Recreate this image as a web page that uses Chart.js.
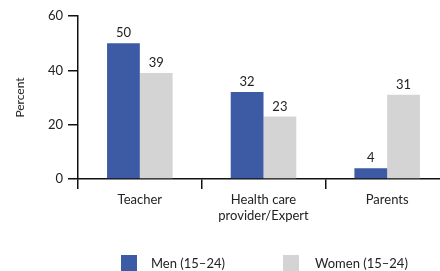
<!DOCTYPE html>
<html>
<head>
<meta charset="utf-8">
<script src="https://cdn.jsdelivr.net/npm/chart.js@4/dist/chart.umd.min.js"></script>
<style>
  html, body { margin: 0; padding: 0; background: #fff; overflow: hidden; }
  #wrap { position: relative; width: 440px; height: 271px; overflow: hidden; }
  #c { position: absolute; left: 0; top: 0; }
  .lg { position: absolute; font-family: Lato, "Open Sans", sans-serif; font-size: 13px; color: #222; line-height: 16px; white-space: nowrap; }
  .bx { position: absolute; width: 16px; height: 16px; }
</style>
</head>
<body>
<div id="wrap">
  <canvas id="c" width="449" height="271" style="width:449px;height:271px"></canvas>
  <div class="bx" id="b0" style="left:121px;top:255px"></div>
  <div class="lg" id="t0" style="left:151px;top:255px"></div>
  <div class="bx" id="b1" style="left:283px;top:255px"></div>
  <div class="lg" id="t1" style="left:315px;top:255px"></div>
</div>
<script>
const categories = [["Teacher"], ["Health care", "provider/Expert"], ["Parents"]];
const seriesNames = ["Men (15–24)", "Women (15–24)"];
const menValues = [50, 32, 4];
const womenValues = [39, 23, 31];
const yTicks = [0, 20, 40, 60];
const yTitle = "Percent";
const colors = ["#3d5aa5", "#d4d4d4"];

document.getElementById('b0').style.background = colors[0];
document.getElementById('b1').style.background = colors[1];
document.getElementById('t0').textContent = seriesNames[0];
document.getElementById('t1').textContent = seriesNames[1];

const FONT = "Lato, 'Open Sans', sans-serif";
const TXT = "#222";

const valueLabels = {
  id: 'valueLabels',
  afterDatasetsDraw(chart) {
    const ctx = chart.ctx;
    ctx.save();
    ctx.font = "13px " + FONT;
    ctx.fillStyle = TXT;
    ctx.textAlign = 'center';
    ctx.textBaseline = 'alphabetic';
    chart.data.datasets.forEach((ds, i) => {
      chart.getDatasetMeta(i).data.forEach((bar, j) => {
        ctx.fillText(String(ds.data[j]), bar.x, bar.y - 6);
      });
    });
    ctx.restore();
  }
};

new Chart(document.getElementById('c'), {
  type: 'bar',
  data: {
    labels: categories,
    datasets: [
      { label: seriesNames[0], data: menValues, backgroundColor: colors[0] },
      { label: seriesNames[1], data: womenValues, backgroundColor: colors[1] }
    ]
  },
  options: {
    responsive: false,
    animation: false,
    devicePixelRatio: 1,
    layout: { padding: { top: 16, right: 0, bottom: 0, left: 0 } },
    categoryPercentage: 0.53,
    barPercentage: 1.0,
    plugins: { legend: { display: false }, tooltip: { enabled: false } },
    scales: {
      x: {
        grid: { offset: true, drawOnChartArea: false, drawTicks: true, tickLength: 10, color: "#111", lineWidth: 1.5 },
        border: { display: true, color: "#111", width: 1.5 },
        ticks: { color: TXT, font: { family: FONT, size: 13 }, padding: 3, maxRotation: 0 },
        afterFit(scale) { scale.height = 92; }
      },
      y: {
        min: 0, max: 60,
        afterBuildTicks(scale) { scale.ticks = yTicks.map(v => ({ value: v })); },
        grid: { drawOnChartArea: false, drawTicks: true, tickLength: 10, color: "#111", lineWidth: 1.5 },
        border: { display: true, color: "#111", width: 1.5 },
        ticks: { color: TXT, font: { family: FONT, size: 13 }, padding: 5 },
        title: { display: true, text: yTitle, color: TXT, font: { family: FONT, size: 12 }, padding: { top: 13, bottom: 0 } },
        afterFit(scale) { scale.width = 78; }
      }
    }
  },
  plugins: [valueLabels]
});
</script>
</body>
</html>
